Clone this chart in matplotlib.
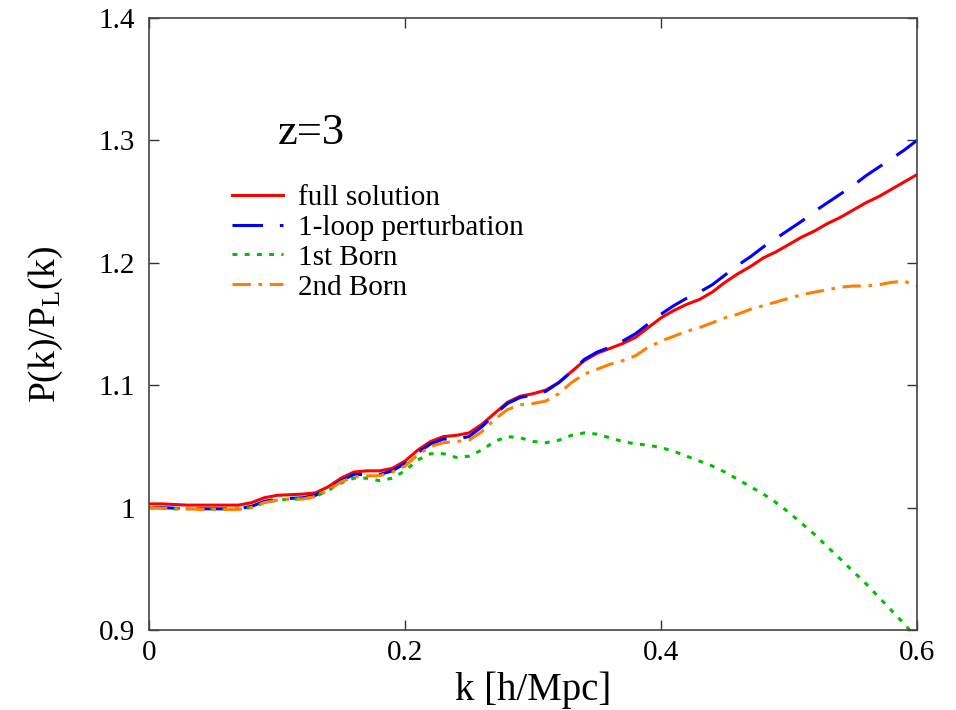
import matplotlib
matplotlib.use("Agg")
import matplotlib.pyplot as plt
from matplotlib.ticker import FixedLocator

plt.rcParams['font.family'] = ['Liberation Serif', 'DejaVu Serif']
plt.rcParams['mathtext.fontset'] = 'custom'
plt.rcParams['mathtext.rm'] = 'Liberation Serif'
plt.rcParams['mathtext.it'] = 'Liberation Serif:italic'

k = [0.00, 0.01, 0.02, 0.03, 0.04, 0.05, 0.06, 0.07, 0.08, 0.09,
     0.10, 0.11, 0.12, 0.13, 0.14, 0.15, 0.16, 0.17, 0.18, 0.19,
     0.20, 0.21, 0.22, 0.23, 0.24, 0.25, 0.26, 0.27, 0.28, 0.29,
     0.30, 0.31, 0.32, 0.33, 0.34, 0.35, 0.36, 0.37, 0.38, 0.39,
     0.40, 0.41, 0.42, 0.43, 0.44, 0.45, 0.46, 0.47, 0.48, 0.49,
     0.50, 0.51, 0.52, 0.53, 0.54, 0.55, 0.56, 0.57, 0.58, 0.59, 0.60]

full_solution = [1.003, 1.003, 1.0025, 1.002, 1.002, 1.002, 1.002, 1.002, 1.004, 1.008,
                 1.010, 1.0105, 1.011, 1.012, 1.017, 1.024, 1.029, 1.030, 1.030, 1.032,
                 1.038, 1.047, 1.054, 1.058, 1.059, 1.061, 1.068, 1.077, 1.086, 1.091,
                 1.093, 1.096, 1.102, 1.111, 1.120, 1.126, 1.130, 1.134, 1.139, 1.147,
                 1.155, 1.161, 1.166, 1.170, 1.176, 1.184, 1.191, 1.197, 1.204, 1.209,
                 1.215, 1.221, 1.226, 1.232, 1.237, 1.243, 1.249, 1.254, 1.260, 1.266, 1.272]

one_loop = [1.000, 1.000, 0.9995, 0.999, 0.999, 0.999, 0.999, 0.999, 1.001, 1.005,
            1.007, 1.0075, 1.008, 1.010, 1.015, 1.022, 1.027, 1.027, 1.027, 1.030,
            1.036, 1.045, 1.052, 1.056, 1.056, 1.058, 1.066, 1.076, 1.085, 1.090,
            1.092, 1.095, 1.102, 1.111, 1.121, 1.127, 1.131, 1.136, 1.142, 1.150,
            1.158, 1.165, 1.171, 1.176, 1.182, 1.190, 1.198, 1.205, 1.213, 1.220,
            1.227, 1.234, 1.242, 1.249, 1.256, 1.263, 1.271, 1.278, 1.285, 1.292, 1.300]

first_born = [1.000, 0.9995, 0.999, 0.999, 0.999, 0.999, 0.999, 0.999, 1.000, 1.004,
              1.006, 1.007, 1.007, 1.009, 1.014, 1.020, 1.024, 1.024, 1.022, 1.024,
              1.030, 1.039, 1.044, 1.044, 1.041, 1.042, 1.047, 1.054, 1.058, 1.057,
              1.054, 1.053, 1.055, 1.059, 1.061, 1.060, 1.057, 1.054, 1.052, 1.051,
              1.049, 1.046, 1.042, 1.038, 1.034, 1.029, 1.023, 1.017, 1.011, 1.004,
              0.996, 0.987, 0.978, 0.968, 0.958, 0.948, 0.938, 0.927, 0.916, 0.905, 0.893]

second_born = [1.000, 0.9995, 0.999, 0.999, 0.9985, 0.9985, 0.9985, 0.9985, 1.000, 1.004,
               1.006, 1.007, 1.007, 1.009, 1.014, 1.021, 1.025, 1.026, 1.026, 1.029,
               1.034, 1.043, 1.050, 1.053, 1.054, 1.055, 1.062, 1.072, 1.080, 1.084,
               1.085, 1.087, 1.093, 1.102, 1.109, 1.113, 1.117, 1.120, 1.124, 1.131,
               1.136, 1.140, 1.144, 1.147, 1.151, 1.155, 1.158, 1.162, 1.165, 1.168,
               1.171, 1.174, 1.176, 1.178, 1.180, 1.181, 1.181, 1.182, 1.184, 1.185, 1.181]

labels = ["full solution", "1-loop perturbation", "1st Born", "2nd Born"]
xticks = [0, 0.2, 0.4, 0.6]
xticklabels = ["0", "0.2", "0.4", "0.6"]
yticks = [0.9, 1.0, 1.1, 1.2, 1.3, 1.4]
yticklabels = ["0.9", "1", "1.1", "1.2", "1.3", "1.4"]

fig = plt.figure(figsize=(9.56, 7.10), dpi=100)
ax = fig.add_axes([0.1559, 0.1127, 0.8033, 0.8620])

ax.plot(k, full_solution, color='#ff0000', lw=2.2, label=labels[0])
ax.plot(k, one_loop, color='#0000ff', lw=2.2, dashes=(10, 5.5), label=labels[1])
ax.plot(k, first_born, color='#00c000', lw=2.2, dashes=(1.6, 2.4), label=labels[2])
ax.plot(k, second_born, color='#ff7f00', lw=2.2, dashes=(6, 2.5, 1.2, 2.5), label=labels[3])

ax.set_xlim(0, 0.6)
ax.set_ylim(0.9, 1.4)
ax.xaxis.set_major_locator(FixedLocator(xticks))
ax.set_xticklabels(xticklabels)
ax.yaxis.set_major_locator(FixedLocator(yticks))
ax.set_yticklabels(yticklabels)
ax.tick_params(direction='in', length=7, width=1, top=True, right=True,
               labelsize=21, color='#333333')
ax.tick_params(axis='y', pad=10)
ax.tick_params(axis='x', pad=7)
for s in ax.spines.values():
    s.set_color('#444444')
    s.set_linewidth(1.2)

ax.set_xlabel("k [h/Mpc]", fontsize=28, labelpad=4)
ax.set_ylabel(r"P(k)/P$_{\mathrm{L}}$(k)", fontsize=27, labelpad=24)

ax.text(0.168, 0.812, "z=3", transform=ax.transAxes, fontsize=32,
        ha='left', va='center')

leg = ax.legend(loc='upper left', bbox_to_anchor=(0.108, 0.728), frameon=False,
                fontsize=21, handlelength=1.75, handletextpad=0.5,
                labelspacing=0.12, borderaxespad=0, borderpad=0)

fig.savefig("out.png", dpi=100)
